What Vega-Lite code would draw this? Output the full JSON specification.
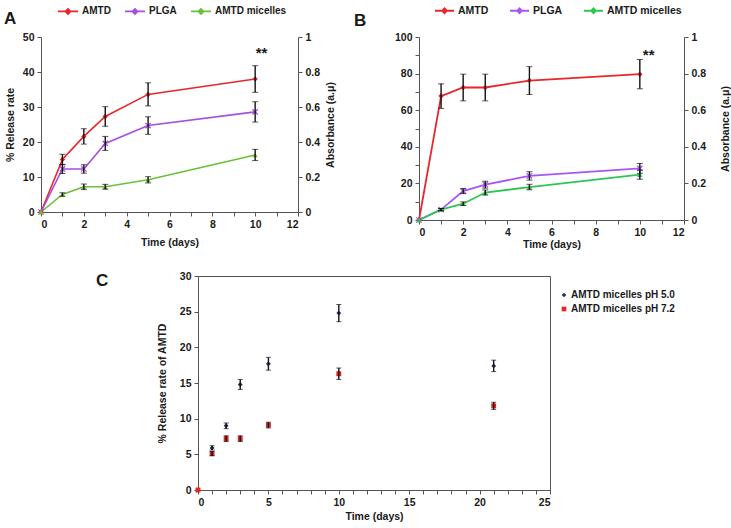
{
  "$schema": "https://vega.github.io/schema/vega-lite/v6.json",
  "background": "white",
  "padding": {"left": 4, "top": 0, "right": 0, "bottom": 0},
  "config": {
    "font": "Liberation Sans",
    "view": {"stroke": null},
    "axis": {
      "grid": false,
      "labelFontSize": 10.5,
      "labelFontWeight": "bold",
      "labelColor": "#1a1a1a",
      "titleFontSize": 10.5,
      "titleFontWeight": "bold",
      "titleColor": "#1a1a1a",
      "domainColor": "#555555",
      "tickColor": "#555555",
      "tickSize": 4,
      "labelPadding": 3
    },
    "legend": {"labelFontSize": 10.5, "labelFontWeight": "bold", "labelColor": "#1a1a1a"},
    "title": {"fontSize": 17, "fontWeight": "bold", "color": "#1a1a1a", "anchor": "start", "frame": "group"}
  },
  "datasets": {
    "A": [
      {"t": 0, "v": 0, "err": 0, "s": "AMTD"},
      {"t": 1, "v": 15.0, "err": 1.5, "s": "AMTD"},
      {"t": 2, "v": 21.6, "err": 2.2, "s": "AMTD"},
      {"t": 3, "v": 27.3, "err": 2.8, "s": "AMTD"},
      {"t": 5, "v": 33.6, "err": 3.3, "s": "AMTD"},
      {"t": 10, "v": 38.0, "err": 3.8, "s": "AMTD"},
      {"t": 0, "v": 0, "err": 0, "s": "PLGA"},
      {"t": 1, "v": 12.3, "err": 1.3, "s": "PLGA"},
      {"t": 2, "v": 12.3, "err": 1.2, "s": "PLGA"},
      {"t": 3, "v": 19.6, "err": 2.0, "s": "PLGA"},
      {"t": 5, "v": 24.7, "err": 2.5, "s": "PLGA"},
      {"t": 10, "v": 28.6, "err": 2.9, "s": "PLGA"},
      {"t": 0, "v": 0, "err": 0, "s": "AMTD micelles"},
      {"t": 1, "v": 5.0, "err": 0.5, "s": "AMTD micelles"},
      {"t": 2, "v": 7.2, "err": 0.8, "s": "AMTD micelles"},
      {"t": 3, "v": 7.2, "err": 0.7, "s": "AMTD micelles"},
      {"t": 5, "v": 9.2, "err": 0.9, "s": "AMTD micelles"},
      {"t": 10, "v": 16.3, "err": 1.6, "s": "AMTD micelles"}
    ],
    "B": [
      {"t": 0, "v": 0, "err": 0, "s": "AMTD"},
      {"t": 1, "v": 67.7, "err": 6.7, "s": "AMTD"},
      {"t": 2, "v": 72.4, "err": 7.3, "s": "AMTD"},
      {"t": 3, "v": 72.4, "err": 7.3, "s": "AMTD"},
      {"t": 5, "v": 76.2, "err": 7.6, "s": "AMTD"},
      {"t": 10, "v": 79.7, "err": 8.0, "s": "AMTD"},
      {"t": 0, "v": 0, "err": 0, "s": "PLGA"},
      {"t": 1, "v": 5.7, "err": 0.6, "s": "PLGA"},
      {"t": 2, "v": 15.8, "err": 1.4, "s": "PLGA"},
      {"t": 3, "v": 19.3, "err": 1.9, "s": "PLGA"},
      {"t": 5, "v": 24.1, "err": 2.3, "s": "PLGA"},
      {"t": 10, "v": 28.2, "err": 2.7, "s": "PLGA"},
      {"t": 0, "v": 0, "err": 0, "s": "AMTD micelles"},
      {"t": 1, "v": 5.7, "err": 0.6, "s": "AMTD micelles"},
      {"t": 2, "v": 8.9, "err": 1.0, "s": "AMTD micelles"},
      {"t": 3, "v": 15.0, "err": 1.4, "s": "AMTD micelles"},
      {"t": 5, "v": 18.0, "err": 1.5, "s": "AMTD micelles"},
      {"t": 10, "v": 24.8, "err": 2.5, "s": "AMTD micelles"}
    ],
    "C": [
      {"t": 0, "v": 0, "err": 0, "s": "AMTD micelles pH 5.0"},
      {"t": 1, "v": 5.9, "err": 0.3, "s": "AMTD micelles pH 5.0"},
      {"t": 2, "v": 9.0, "err": 0.4, "s": "AMTD micelles pH 5.0"},
      {"t": 3, "v": 14.8, "err": 0.7, "s": "AMTD micelles pH 5.0"},
      {"t": 5, "v": 17.7, "err": 0.9, "s": "AMTD micelles pH 5.0"},
      {"t": 10, "v": 24.8, "err": 1.2, "s": "AMTD micelles pH 5.0"},
      {"t": 21, "v": 17.4, "err": 0.8, "s": "AMTD micelles pH 5.0"},
      {"t": 0, "v": 0, "err": 0, "s": "AMTD micelles pH 7.2"},
      {"t": 1, "v": 5.1, "err": 0.3, "s": "AMTD micelles pH 7.2"},
      {"t": 2, "v": 7.2, "err": 0.4, "s": "AMTD micelles pH 7.2"},
      {"t": 3, "v": 7.2, "err": 0.4, "s": "AMTD micelles pH 7.2"},
      {"t": 5, "v": 9.1, "err": 0.4, "s": "AMTD micelles pH 7.2"},
      {"t": 10, "v": 16.3, "err": 0.8, "s": "AMTD micelles pH 7.2"},
      {"t": 21, "v": 11.8, "err": 0.5, "s": "AMTD micelles pH 7.2"}
    ],
    "starsA": [{"t": 10.3, "v": 45.5, "label": "**"}],
    "starsB": [{"t": 10.4, "v": 90, "label": "**"}]
  },
  "resolve": {
    "scale": {"color": "independent", "shape": "independent"},
    "legend": {"color": "independent", "shape": "independent"}
  },
  "spacing": 20,
  "vconcat": [
    {
      "spacing": 17,
      "resolve": {
        "scale": {"color": "independent"},
        "legend": {"color": "independent"}
      },
      "hconcat": [
        {
          "title": {"text": "A", "dx": -37, "offset": -28},
          "width": 257,
          "height": 175,
          "data": {"name": "A"},
          "layer": [
            {
              "encoding": {
                "x": {"field": "t", "type": "quantitative", "scale": {"domain": [0, 12]},
                  "axis": {"title": "Time (days)", "values": [0,1,2,3,4,5,6,7,8,9,10,11,12], "labelExpr": "datum.value % 2 == 0 ? datum.label : ''", "titlePadding": 8}},
                "y": {"field": "v", "type": "quantitative", "scale": {"domain": [0, 50]},
                  "axis": {"title": "% Release rate", "values": [0,10,20,30,40,50], "titlePadding": 7}}
              },
              "layer": [
                {
                  "mark": {"type": "line", "strokeWidth": 1.6},
                  "encoding": {
                    "color": {"field": "s", "type": "nominal", "sort": null,
                      "scale": {"domain": ["AMTD", "PLGA", "AMTD micelles"], "range": ["#e8262b", "#a44fe0", "#6cbf3c"]},
                      "legend": {"title": null, "orient": "none", "direction": "horizontal", "legendX": 16, "legendY": -37,
                        "symbolType": "M-1,0H1M-0.25,0L0,-0.25L0.25,0L0,0.25Z", "symbolSize": 400, "symbolStrokeWidth": 1.8,
                        "labelOffset": 3, "columnPadding": 10, "labelFontSize": 10}}
                  }
                },
                {
                  "transform": [{"filter": "datum.s == 'AMTD'"}],
                  "mark": {"type": "point", "shape": "diamond", "filled": true, "size": 30, "color": "#e8262b", "opacity": 1}
                },
                {
                  "transform": [{"filter": "datum.s == 'PLGA'"}],
                  "mark": {"type": "point", "shape": "M-1,-1L1,1M-1,1L1,-1", "filled": false, "size": 28, "strokeWidth": 1.3, "color": "#a44fe0", "opacity": 1}
                },
                {
                  "transform": [{"filter": "datum.s == 'AMTD micelles'"}],
                  "mark": {"type": "point", "shape": "triangle-up", "filled": true, "size": 28, "color": "#6cbf3c", "opacity": 1}
                },
                {
                  "transform": [{"filter": "datum.err > 0"}],
                  "mark": {"type": "errorbar", "color": "#111111", "ticks": {"size": 6}, "rule": {"strokeWidth": 1.4}},
                  "encoding": {"yError": {"field": "err"}}
                },
                {
                  "data": {"name": "starsA"},
                  "mark": {"type": "text", "fontSize": 15, "fontWeight": "bold", "color": "#1a1a1a"},
                  "encoding": {"text": {"field": "label"}}
                }
              ]
            },
            {
              "mark": {"type": "rule", "opacity": 0},
              "encoding": {
                "y": {"datum": 0, "type": "quantitative", "scale": {"domain": [0, 1]},
                  "axis": {"orient": "right", "title": "Absorbance (a.μ)", "values": [0,0.2,0.4,0.6,0.8,1], "format": "~g", "titleAngle": 270, "titleBaseline": "top", "titlePadding": 6}}
              }
            }
          ],
          "resolve": {"scale": {"y": "independent"}}
        },
        {
          "title": {"text": "B", "dx": -65, "offset": -30},
          "width": 265,
          "height": 183,
          "data": {"name": "B"},
          "layer": [
            {
              "encoding": {
                "x": {"field": "t", "type": "quantitative", "scale": {"domain": [0, 12]},
                  "axis": {"title": "Time (days)", "values": [0,1,2,3,4,5,6,7,8,9,10,11,12], "labelExpr": "datum.value % 2 == 0 ? datum.label : ''", "titlePadding": 2}},
                "y": {"field": "v", "type": "quantitative", "scale": {"domain": [0, 100]},
                  "axis": {"title": null, "values": [0,10,20,30,40,50,60,70,80,90,100], "labelExpr": "datum.value % 20 == 0 ? datum.label : ''"}}
              },
              "layer": [
                {
                  "mark": {"type": "line", "strokeWidth": 1.8},
                  "encoding": {
                    "color": {"field": "s", "type": "nominal", "sort": null,
                      "scale": {"domain": ["AMTD", "PLGA", "AMTD micelles"], "range": ["#e8262b", "#a855f7", "#2dc653"]},
                      "legend": {"title": null, "orient": "none", "direction": "horizontal", "legendX": 15, "legendY": -37,
                        "symbolType": "M-1,0H1M-0.25,0L0,-0.25L0.25,0L0,0.25Z", "symbolSize": 360, "symbolStrokeWidth": 1.8,
                        "labelOffset": 3, "columnPadding": 17, "labelFontSize": 10.5}}
                  }
                },
                {
                  "transform": [{"filter": "datum.s == 'AMTD'"}],
                  "mark": {"type": "point", "shape": "diamond", "filled": true, "size": 30, "color": "#e8262b", "opacity": 1}
                },
                {
                  "transform": [{"filter": "datum.s == 'PLGA'"}],
                  "mark": {"type": "point", "shape": "M-1,-1L1,1M-1,1L1,-1", "filled": false, "size": 28, "strokeWidth": 1.3, "color": "#a855f7", "opacity": 1}
                },
                {
                  "transform": [{"filter": "datum.s == 'AMTD micelles'"}],
                  "mark": {"type": "point", "shape": "triangle-up", "filled": true, "size": 28, "color": "#2dc653", "opacity": 1}
                },
                {
                  "transform": [{"filter": "datum.err > 0"}],
                  "mark": {"type": "errorbar", "color": "#111111", "ticks": {"size": 6}, "rule": {"strokeWidth": 1.4}},
                  "encoding": {"yError": {"field": "err"}}
                },
                {
                  "data": {"name": "starsB"},
                  "mark": {"type": "text", "fontSize": 15, "fontWeight": "bold", "color": "#1a1a1a"},
                  "encoding": {"text": {"field": "label"}}
                }
              ]
            },
            {
              "mark": {"type": "rule", "opacity": 0},
              "encoding": {
                "y": {"datum": 0, "type": "quantitative", "scale": {"domain": [0, 1]},
                  "axis": {"orient": "right", "title": "Absorbance (a.μ)", "values": [0,0.2,0.4,0.6,0.8,1], "format": "~g", "titleAngle": 270, "titleBaseline": "top", "titlePadding": 15}}
              }
            }
          ],
          "resolve": {"scale": {"y": "independent"}}
        }
      ]
    },
    {
      "spacing": 20,
      "hconcat": [
        {
          "width": 34,
          "height": 10,
          "data": {"values": [{}]},
          "mark": {"type": "point", "opacity": 0}
        },
        {
          "title": {"text": "C", "dx": -102, "offset": -19},
          "width": 352,
          "height": 214,
          "view": {"stroke": "#555555"},
          "data": {"name": "C"},
          "encoding": {
            "x": {"field": "t", "type": "quantitative", "scale": {"domain": [0, 25]},
              "axis": {"title": "Time (days)", "values": [0,1,2,3,4,5,6,7,8,9,10,11,12,13,14,15,16,17,18,19,20,21,22,23,24,25], "labelExpr": "datum.value % 5 == 0 ? datum.label : ''", "titlePadding": 4}},
            "y": {"field": "v", "type": "quantitative", "scale": {"domain": [0, 30]},
              "axis": {"title": "% Release rate of AMTD", "values": [0,5,10,15,20,25,30], "titlePadding": 12}}
          },
          "layer": [
            {
              "mark": {"type": "point", "filled": true, "size": 24, "opacity": 1},
              "encoding": {
                "color": {"field": "s", "type": "nominal", "sort": null,
                  "scale": {"domain": ["AMTD micelles pH 5.0", "AMTD micelles pH 7.2"], "range": ["#1f3864", "#e32626"]},
                  "legend": {"title": null, "orient": "right", "offset": -6, "padding": 14, "direction": "vertical",
                    "labelFontSize": 10, "symbolSize": 22, "labelOffset": 2, "rowPadding": 4}},
                "shape": {"field": "s", "type": "nominal", "sort": null,
                  "scale": {"domain": ["AMTD micelles pH 5.0", "AMTD micelles pH 7.2"], "range": ["diamond", "square"]},
                  "legend": {"title": null, "orient": "right", "offset": -6, "padding": 14, "direction": "vertical",
                    "labelFontSize": 10, "symbolSize": 22, "labelOffset": 2, "rowPadding": 4}}
              }
            },
            {
              "transform": [{"filter": "datum.err > 0"}],
              "mark": {"type": "errorbar", "color": "#111111", "ticks": {"size": 5}, "rule": {"strokeWidth": 1.4}},
              "encoding": {"yError": {"field": "err"}}
            }
          ]
        }
      ]
    }
  ]
}
